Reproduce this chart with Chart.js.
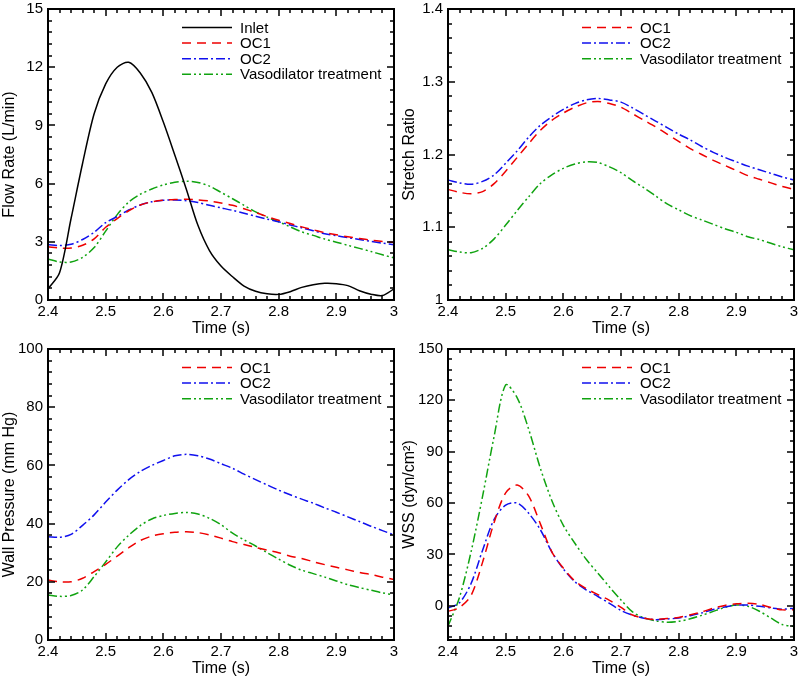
<!DOCTYPE html>
<html>
<head>
<meta charset="utf-8">
<script src="https://cdn.jsdelivr.net/npm/chart.js@4.4.0/dist/chart.umd.min.js"></script>
<style>
  html, body { margin: 0; background: #fff; }
  #wrap { position: relative; width: 800px; height: 680px; background: #fff; }
  #wrap canvas { position: absolute; }
</style>
</head>
<body>
<div id="wrap">
  <canvas id="flowChart" width="400" height="340" style="left:0;top:0"></canvas>
  <canvas id="stretchChart" width="400" height="340" style="left:400px;top:0"></canvas>
  <canvas id="pressureChart" width="400" height="340" style="left:0;top:340px"></canvas>
  <canvas id="wssChart" width="400" height="340" style="left:400px;top:340px"></canvas>
</div>
<script>
// time samples (s)
const time = [2.40, 2.42, 2.44, 2.46, 2.48, 2.50, 2.52, 2.54, 2.56, 2.58, 2.60,
  2.62, 2.64, 2.66, 2.68, 2.70, 2.72, 2.74, 2.76, 2.78, 2.80,
  2.82, 2.84, 2.86, 2.88, 2.90, 2.92, 2.94, 2.96, 2.98, 3.00];

// flow rate (L/min)
const flowInlet = [0.57, 1.4, 4.2, 7.05, 9.6, 11.14, 12.0, 12.25, 11.7, 10.7, 9.17,
  7.46, 5.7, 3.85, 2.55, 1.75, 1.2, 0.72, 0.45, 0.32, 0.29,
  0.43, 0.65, 0.79, 0.86, 0.84, 0.74, 0.48, 0.3, 0.23, 0.57];
const flowOC1 = [2.74, 2.68, 2.68, 2.82, 3.15, 3.75, 4.2, 4.6, 4.9, 5.06, 5.14,
  5.18, 5.19, 5.16, 5.1, 5.0, 4.88, 4.7, 4.51, 4.3, 4.11,
  3.94, 3.77, 3.62, 3.47, 3.36, 3.26, 3.17, 3.09, 3.02, 2.96];
const flowOC2 = [2.86, 2.81, 2.87, 3.12, 3.49, 3.99, 4.3, 4.64, 4.9, 5.06, 5.14,
  5.16, 5.12, 5.03, 4.88, 4.75, 4.62, 4.47, 4.32, 4.17, 4.03,
  3.87, 3.72, 3.57, 3.42, 3.31, 3.22, 3.12, 3.02, 2.93, 2.85];
const flowVaso = [2.11, 1.96, 1.96, 2.2, 2.7, 3.55, 4.4, 5.05, 5.45, 5.72, 5.93,
  6.07, 6.12, 6.06, 5.87, 5.55, 5.22, 4.88, 4.54, 4.27, 4.03,
  3.77, 3.51, 3.33, 3.14, 2.98, 2.82, 2.66, 2.5, 2.33, 2.17];

// stretch ratio
const stretchOC1 = [1.152, 1.148, 1.146, 1.149, 1.160, 1.177, 1.196, 1.215, 1.233, 1.247, 1.257,
  1.265, 1.271, 1.273, 1.270, 1.265, 1.256, 1.247, 1.238, 1.228, 1.218,
  1.208, 1.200, 1.192, 1.185, 1.178, 1.171, 1.166, 1.161, 1.156, 1.152];
const stretchOC2 = [1.165, 1.161, 1.159, 1.163, 1.172, 1.188, 1.205, 1.224, 1.240, 1.252, 1.262,
  1.270, 1.275, 1.277, 1.275, 1.272, 1.264, 1.255, 1.246, 1.237, 1.228,
  1.220, 1.211, 1.203, 1.196, 1.190, 1.184, 1.179, 1.174, 1.169, 1.165];
const stretchVaso = [1.069, 1.066, 1.065, 1.071, 1.084, 1.103, 1.123, 1.142, 1.160, 1.172, 1.181,
  1.187, 1.190, 1.189, 1.183, 1.175, 1.164, 1.154, 1.143, 1.132, 1.124,
  1.116, 1.110, 1.104, 1.098, 1.093, 1.087, 1.083, 1.078, 1.073, 1.069];

// wall pressure (mm Hg)
const pressureOC1 = [20.6, 20.0, 20.0, 21.2, 23.5, 26.0, 28.8, 31.7, 34.2, 35.7, 36.5,
  37.0, 37.2, 36.9, 36.1, 35.0, 33.8, 32.8, 31.8, 30.9, 30.0,
  28.8, 28.0, 26.9, 25.9, 25.0, 24.1, 23.2, 22.5, 21.6, 20.8];
const pressureOC2 = [35.5, 35.3, 36.3, 39.4, 43.0, 47.4, 51.5, 55.1, 57.9, 60.0, 61.7,
  63.3, 63.8, 63.3, 62.2, 60.6, 59.0, 57.0, 55.1, 53.3, 51.5,
  49.9, 48.4, 47.0, 45.4, 43.9, 42.3, 40.7, 39.1, 37.6, 36.1];
const pressureVaso = [15.5, 15.0, 15.3, 17.2, 21.8, 26.8, 32.0, 36.0, 39.3, 41.6, 42.8,
  43.5, 43.8, 43.3, 41.8, 39.6, 36.7, 34.4, 32.3, 30.0, 27.8,
  25.7, 24.0, 22.8, 21.6, 20.3, 19.0, 18.0, 17.1, 16.2, 15.5];

// wall shear stress (dyn/cm2)
const wssOC1 = [-3.3, -1, 6, 25.5, 48.7, 66, 70.5, 64, 48, 31.5, 22,
  14.5, 10, 6.5, 3.2, -1, -5.4, -7.3, -8.0, -7.5, -6.8,
  -5.3, -3.6, -1.4, 0.2, 1.2, 1.4, 0.8, -1.0, -2.4, -2.3];
const wssOC2 = [-1.4, 1.8, 13, 32.5, 50.5, 58.8, 60, 54, 44.5, 31.5, 21.5,
  14, 9.2, 5.4, 1.4, -2.8, -5.5, -7.3, -8.1, -7.7, -7.2,
  -5.8, -4.2, -2.2, -0.7, 0.4, 0.4, -0.3, -1.3, -2.0, -1.4];
const wssVaso = [-12, 5, 31.5, 64, 99, 129, 121.5, 103, 80.5, 61.5, 47,
  36.5, 27, 19, 11, 3.4, -3.6, -7, -8.8, -9.6, -9.1,
  -7.6, -5.6, -3.3, -1.0, 0.5, -0.3, -3.2, -7.2, -11, -12];

const FONT = '"Liberation Sans", Arial, Helvetica, sans-serif';

const lineStyles = {
  'Inlet': { color: '#000000', dash: [] },
  'OC1': { color: '#ee0000', dash: [9, 6] },
  'OC2': { color: '#1010ee', dash: [9, 3, 2, 3] },
  'Vasodilator treatment': { color: '#10a310', dash: [9, 3, 2, 3, 2, 3] }
};

const fmt = v => String(+(+v).toFixed(3));

// tick values between lo and hi, every `step`
function tickValues(lo, hi, step) {
  const out = [];
  const first = Math.ceil(lo / step - 1e-6);
  const last = Math.floor(hi / step + 1e-6);
  for (let i = first; i <= last; i++) out.push(i * step);
  return out;
}

// box + inward major/minor ticks on all four sides
function framePlugin(xMajor, xMinor, yMajor, yMinor) {
  return {
    id: 'frame' + Math.random().toString(36).slice(2),
    afterDraw(chart) {
      const ctx = chart.ctx;
      const a = chart.chartArea;
      const sx = chart.scales.x, sy = chart.scales.y;
      const isMajor = (v, step) => Math.abs(v / step - Math.round(v / step)) < 1e-6;
      ctx.save();
      ctx.fillStyle = '#000';
      for (const v of tickValues(sx.min, sx.max, xMinor)) {
        const len = isMajor(v, xMajor) ? 7 : 4;
        const x = Math.round(sx.getPixelForValue(v));
        ctx.fillRect(x - 0.75, a.bottom - len, 1.5, len);
        ctx.fillRect(x - 0.75, a.top, 1.5, len);
      }
      for (const v of tickValues(sy.min, sy.max, yMinor)) {
        const len = isMajor(v, yMajor) ? 7 : 4;
        const y = Math.round(sy.getPixelForValue(v));
        ctx.fillRect(a.left, y - 0.75, len, 1.5);
        ctx.fillRect(a.right - len, y - 0.75, len, 1.5);
      }
      ctx.strokeStyle = '#000';
      ctx.lineWidth = 2;
      ctx.strokeRect(a.left, a.top, a.right - a.left, a.bottom - a.top);
      ctx.restore();
    }
  };
}

// legend drawn inside the plot, Tecplot style
const insideLegend = {
  id: 'insideLegend',
  afterDraw(chart) {
    const { ctx, chartArea: a } = chart;
    ctx.save();
    ctx.font = '15px ' + FONT;
    ctx.textBaseline = 'middle';
    ctx.fillStyle = '#000';
    chart.data.datasets.forEach((ds, i) => {
      const y = a.top + 18.5 + i * 15.6;
      ctx.strokeStyle = ds.borderColor;
      ctx.lineWidth = 1.5;
      ctx.setLineDash(ds.borderDash || []);
      ctx.beginPath();
      ctx.moveTo(a.left + 134, y);
      ctx.lineTo(a.left + 184, y);
      ctx.stroke();
      ctx.setLineDash([]);
      ctx.fillText(ds.label, a.left + 192, y + 1);
    });
    ctx.restore();
  }
};

function makePanel(id, yTitle, yMin, yMax, yStep, yMinor, series) {
  const datasets = series.map(([label, values]) => ({
    label: label,
    data: time.map((t, i) => ({ x: t, y: values[i] })),
    borderColor: lineStyles[label].color,
    borderDash: lineStyles[label].dash,
    borderWidth: 1.5,
    pointRadius: 0,
    fill: false,
    tension: 0.3
  }));
  new Chart(document.getElementById(id), {
    type: 'line',
    data: { datasets: datasets },
    options: {
      responsive: false,
      animation: false,
      layout: { padding: { top: 9, right: 6, left: 0, bottom: 0 } },
      plugins: {
        legend: { display: false },
        tooltip: { enabled: false }
      },
      scales: {
        x: {
          type: 'linear', min: 2.4, max: 3,
          grid: { display: false, drawTicks: false },
          border: { display: false },
          ticks: { stepSize: 0.1, callback: fmt, padding: 3, color: '#000', maxRotation: 0,
                   font: { family: FONT, size: 15 } },
          title: { display: true, text: 'Time (s)', color: '#000', padding: { top: 0, bottom: 2 },
                   font: { family: FONT, size: 16 } },
          afterFit: s => { s.height = 40; s.paddingLeft = 0; s.paddingRight = 0; }
        },
        y: {
          type: 'linear', min: yMin, max: yMax,
          grid: { display: false, drawTicks: false },
          border: { display: false },
          ticks: { stepSize: yStep, callback: fmt, padding: 5, color: '#000',
                   font: { family: FONT, size: 15 } },
          afterBuildTicks: s => {
            s.ticks = s.ticks.filter(t => Math.abs(t.value / yStep - Math.round(t.value / yStep)) < 1e-6);
          },
          title: { display: true, text: yTitle, color: '#000', padding: { top: 0, bottom: 0 },
                   font: { family: FONT, size: 16 } },
          afterFit: s => { s.width = 48; s.paddingTop = 0; s.paddingBottom = 0; }
        }
      }
    },
    plugins: [framePlugin(0.1, 0.02, yStep, yMinor), insideLegend]
  });
}

makePanel('flowChart', 'Flow Rate (L/min)', 0, 15, 3, 0.6, [
  ['Inlet', flowInlet], ['OC1', flowOC1], ['OC2', flowOC2], ['Vasodilator treatment', flowVaso]
]);
makePanel('stretchChart', 'Stretch Ratio', 1, 1.4, 0.1, 0.02, [
  ['OC1', stretchOC1], ['OC2', stretchOC2], ['Vasodilator treatment', stretchVaso]
]);
makePanel('pressureChart', 'Wall Pressure (mm Hg)', 0, 100, 20, 4, [
  ['OC1', pressureOC1], ['OC2', pressureOC2], ['Vasodilator treatment', pressureVaso]
]);
makePanel('wssChart', 'WSS (dyn/cm²)', -20, 150, 30, 6, [
  ['OC1', wssOC1], ['OC2', wssOC2], ['Vasodilator treatment', wssVaso]
]);
</script>
</body>
</html>
